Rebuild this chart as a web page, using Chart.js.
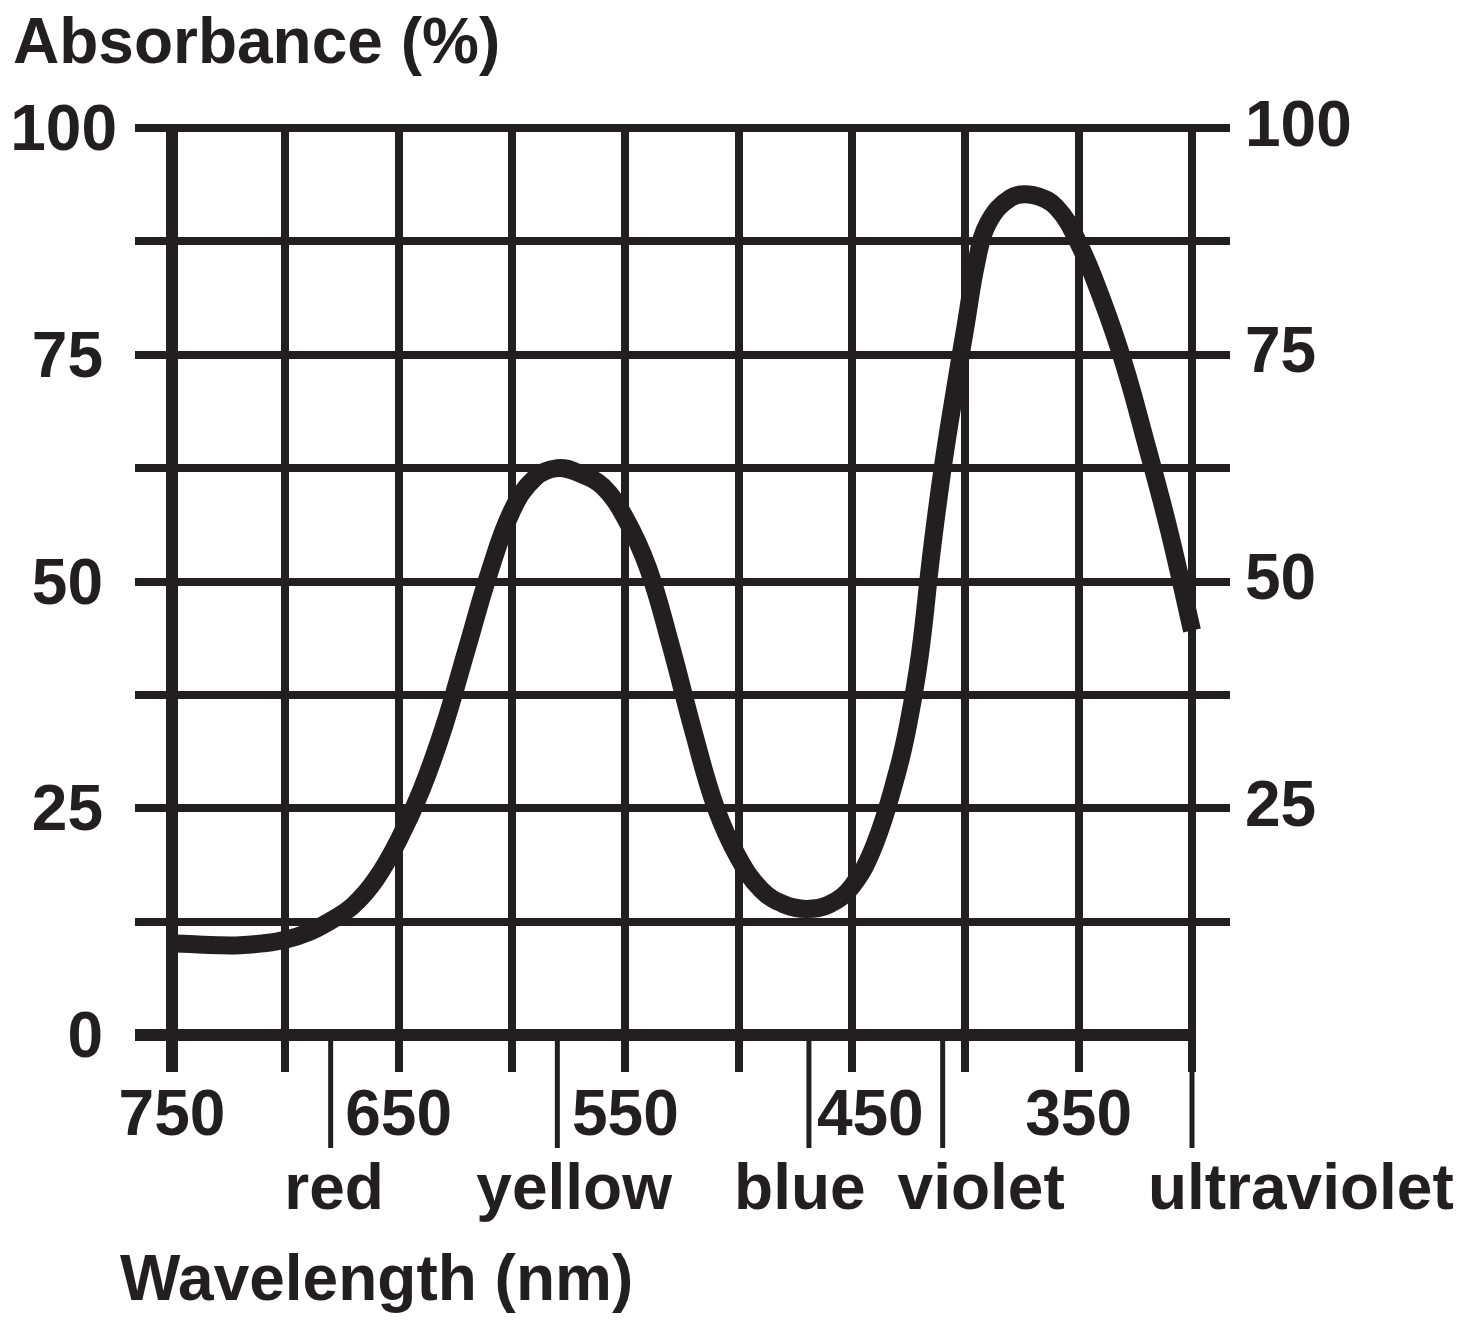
<!DOCTYPE html>
<html>
<head>
<meta charset="utf-8">
<script src="https://cdn.jsdelivr.net/npm/chart.js@4.4.1/dist/chart.umd.min.js"></script>
<style>
  html, body { margin: 0; padding: 0; background: #fff; }
  #wrap { width: 1470px; height: 1320px; position: relative; }
</style>
</head>
<body>
<div id="wrap"><canvas id="absChart"></canvas></div>
<script>
// curva de absorbância (nm, %)
const wavelengths = [750, 740, 730, 720, 710, 700, 690, 680, 670, 660, 650, 640, 630, 620, 610, 600,
  590, 580, 570, 560, 550, 540, 530, 520, 510, 500, 490, 480, 470, 460, 450, 440, 430, 425,
  420, 415, 410, 405, 400, 395, 390, 380, 370, 360, 350, 340, 330, 320, 310, 300];
const absorbance = [10.1, 10.0, 9.9, 9.9, 10.1, 10.5, 11.3, 12.6, 14.3, 17.2, 21.5, 27, 34, 42.5, 51, 57.8,
  61.4, 62.5, 61.9, 60.5, 57, 51.5, 43, 33.5, 25, 19.5, 16, 14.4, 13.9, 14.4, 16.4, 21, 29, 34.5,
  42, 53, 62.5, 70.5, 78, 85.3, 89.5, 92.3, 92.6, 91.3, 87.3, 81.3, 74, 65, 55.5, 44.6];

// rótulos dos eixos
const xTickLabels = [750, 650, 550, 450, 350];
const yLeftLabels = [0, 25, 50, 75, 100];
const yRightLabels = [25, 50, 75, 100];

// faixas de cor abaixo do eixo
const bandEdges = [680, 580, 469, 410, 300];
const colorNames = ['red', 'yellow', 'blue', 'violet', 'ultraviolet'];
const colorNamePos = [678.5, 572.6, 473, 393, 252];

const INK = '#231f20';
const FONT = "'Liberation Sans', Arial, sans-serif";
const BOLD = 'bold 64px ' + FONT;

const labelPlugin = {
  id: 'labels',
  afterDraw(chart) {
    const c = chart.ctx;
    const xs = chart.scales.x;
    const ys = chart.scales.y;
    const bottom = chart.chartArea.bottom;
    c.save();

    // linhas separando as cores
    c.strokeStyle = INK;
    c.lineWidth = 5;
    const edgePx = bandEdges.map(nm => xs.getPixelForValue(nm));
    edgePx.forEach(px => {
      c.beginPath();
      c.moveTo(px, bottom + 6);
      c.lineTo(px, bottom + 113);
      c.stroke();
    });

    c.fillStyle = INK;
    c.font = BOLD;
    c.textBaseline = 'alphabetic';

    // números do eixo x (afasta da linha de cor se encostar)
    c.textAlign = 'center';
    xTickLabels.forEach(v => {
      const txt = String(v);
      const half = c.measureText(txt).width / 2;
      let px = xs.getPixelForValue(v);
      edgePx.forEach(e => {
        if (e < px && px - half < e + 4) px = e + 8 + half;
      });
      c.fillText(txt, px, bottom + 100);
    });

    // números do eixo y esquerdo
    c.textAlign = 'right';
    yLeftLabels.forEach(v => {
      const txt = String(v);
      const right = txt.length > 2 ? 117 : 103;
      c.fillText(txt, right, ys.getPixelForValue(v) + 22);
    });

    // nomes das cores
    c.textAlign = 'center';
    colorNames.forEach((name, i) => {
      c.fillText(name, xs.getPixelForValue(colorNamePos[i]), bottom + 174);
    });

    // títulos
    c.textAlign = 'left';
    c.fillText('Absorbance (%)', 13, 63);
    c.fillText('Wavelength (nm)', 120, 1300);
    c.restore();
  }
};

const ctx = document.getElementById('absChart').getContext('2d');

new Chart(ctx, {
  type: 'line',
  data: {
    datasets: [{
      data: wavelengths.map((w, i) => ({ x: w, y: absorbance[i] })),
      borderColor: INK,
      borderWidth: 18,
      borderCapStyle: 'butt',
      borderJoinStyle: 'round',
      pointRadius: 0,
      tension: 0.4,
      fill: false,
      clip: false
    }]
  },
  options: {
    responsive: true,
    maintainAspectRatio: false,
    animation: false,
    layout: { padding: { top: 128, left: 0, right: 0, bottom: 0 } },
    plugins: {
      legend: { display: false },
      tooltip: { enabled: false }
    },
    scales: {
      x: {
        type: 'linear',
        reverse: true,
        min: 300,
        max: 750,
        border: { display: false },
        grid: {
          color: INK,
          lineWidth: c => (c.tick && c.tick.value === 750 ? 12 : 8),
          tickLength: 37
        },
        ticks: {
          stepSize: 50,
          autoSkip: false,
          maxRotation: 0,
          callback: () => ''
        },
        afterFit: s => { s.height = 285; }
      },
      y: {
        position: 'left',
        min: 0,
        max: 100,
        border: { display: false },
        grid: {
          color: INK,
          lineWidth: c => (c.tick && c.tick.value === 0 ? 12 : 8),
          tickLength: 37
        },
        ticks: {
          stepSize: 12.5,
          autoSkip: false,
          callback: () => ''
        },
        afterFit: s => { s.width = 172; }
      },
      yRight: {
        position: 'right',
        min: 0,
        max: 100,
        border: { display: false },
        grid: {
          drawOnChartArea: false,
          color: INK,
          tickColor: c => (c.tick && c.tick.value === 0 ? 'rgba(0,0,0,0)' : INK),
          lineWidth: 8,
          tickLength: 38
        },
        ticks: {
          stepSize: 12.5,
          autoSkip: false,
          padding: 15,
          color: INK,
          font: { family: FONT, size: 64, weight: 'bold' },
          callback: v => (yRightLabels.includes(v) ? String(v) : '')
        },
        afterFit: s => { s.width = 278; }
      }
    }
  },
  plugins: [labelPlugin]
});
</script>
</body>
</html>
